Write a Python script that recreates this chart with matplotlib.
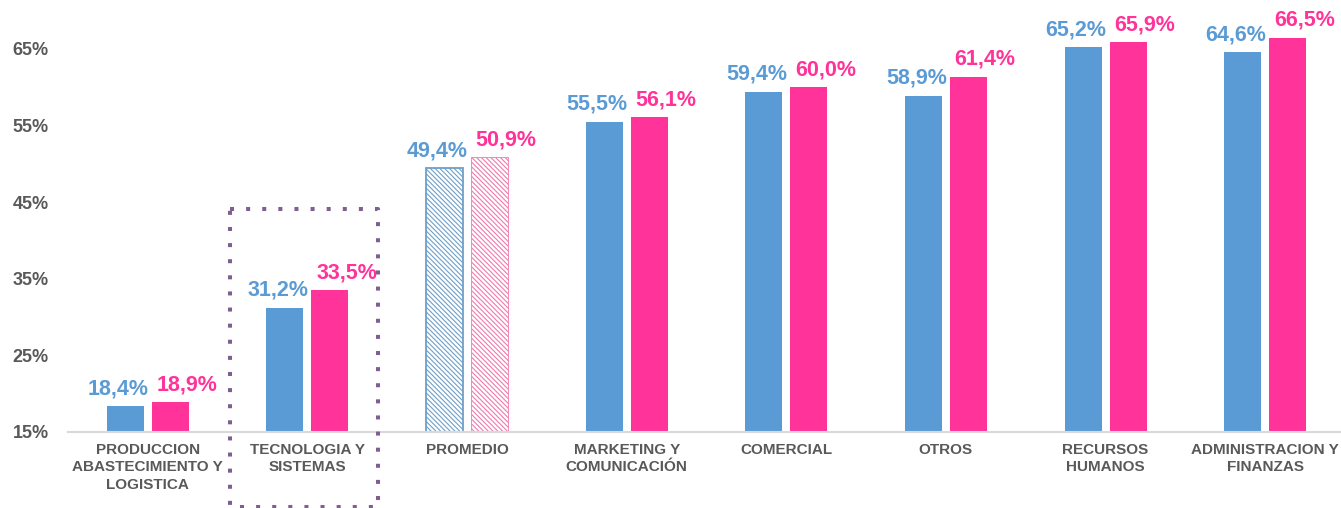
import matplotlib
matplotlib.use("Agg")
import matplotlib.pyplot as plt
from matplotlib.lines import Line2D
import numpy as np

categories = ["PRODUCCION\nABASTECIMIENTO Y\nLOGISTICA", "TECNOLOGIA Y\nSISTEMAS", "PROMEDIO",
              "MARKETING Y\nCOMUNICACIÓN", "COMERCIAL", "OTROS", "RECURSOS\nHUMANOS",
              "ADMINISTRACION Y\nFINANZAS"]
series_a = [18.4, 31.2, 49.4, 55.5, 59.4, 58.9, 65.2, 64.6]
series_b = [18.9, 33.5, 50.9, 56.1, 60.0, 61.4, 65.9, 66.5]
yticks = [15, 25, 35, 45, 55, 65]
ytick_labels = ["15%", "25%", "35%", "45%", "55%", "65%"]

BLUE = "#5B9BD5"
PINK = "#FF3399"
GRAY = "#595959"
plt.rcParams['font.family'] = ['Liberation Sans', 'DejaVu Sans']
plt.rcParams['hatch.linewidth'] = 0.8

W, H = 1341, 508
fig = plt.figure(figsize=(W / 100, H / 100), dpi=100)
ax = fig.add_axes([68 / W, (H - 432) / H, 1 - 68 / W, 432 / H])

x = np.arange(len(categories))
bw = 0.232
off = 0.141
bars_a = ax.bar(x - off, series_a, bw, bottom=0, color=BLUE, zorder=2)
bars_b = ax.bar(x + off, series_b, bw, bottom=0, color=PINK, zorder=2)

# PROMEDIO hatched
pi = categories.index("PROMEDIO")
for b, c, lw in ((bars_a[pi], "#6E9FC8", 1.3), (bars_b[pi], "#F07AB0", 0.6)):
    b.set_facecolor("white")
    b.set_edgecolor(c)
    b.set_hatch("\\\\\\\\\\\\\\")
    b.set_linewidth(lw)

ax.set_ylim(15, 15 + 432 / 7.66)
ax.set_xlim(-0.5, 7.475)

for i in range(len(categories)):
    ax.annotate(f"{series_a[i]:.1f}%".replace(".", ","), (x[i] - off, series_a[i]),
                xytext=(-5, 5), textcoords="offset points", ha="center", va="bottom",
                color=BLUE, fontsize=15.5, fontweight="bold")
    ax.annotate(f"{series_b[i]:.1f}%".replace(".", ","), (x[i] + off, series_b[i]),
                xytext=(12, 5), textcoords="offset points", ha="center", va="bottom",
                color=PINK, fontsize=15.5, fontweight="bold")

for s in ["top", "right", "left"]:
    ax.spines[s].set_visible(False)
ax.spines["bottom"].set_color("#D9D9D9")
ax.spines["bottom"].set_linewidth(1.5)
ax.spines["bottom"].set_zorder(3)

ax.set_yticks(yticks)
ax.set_yticklabels(ytick_labels, fontsize=13, fontweight="bold", color=GRAY)
ax.tick_params(axis="y", length=0, pad=14)
ax.set_xticks(x)
ax.set_xticklabels(categories, fontsize=11, fontweight="bold", color=GRAY, linespacing=1.3)
ax.tick_params(axis="x", length=0, pad=8)

# dotted box around TECNOLOGIA Y SISTEMAS
bx0, bx1 = 0.512, 1.441
by0, by1 = 15 - (507 - 432) / 7.66, 15 + (432 - 209) / 7.66
box = Line2D([bx0, bx1, bx1, bx0, bx0], [by1, by1, by0, by0, by1], color="#7F5F8F",
             lw=2.9, linestyle=(0, (1, 3)), dash_capstyle="butt", clip_on=False, zorder=4)
ax.add_line(box)

fig.savefig("out.png", dpi=100)
